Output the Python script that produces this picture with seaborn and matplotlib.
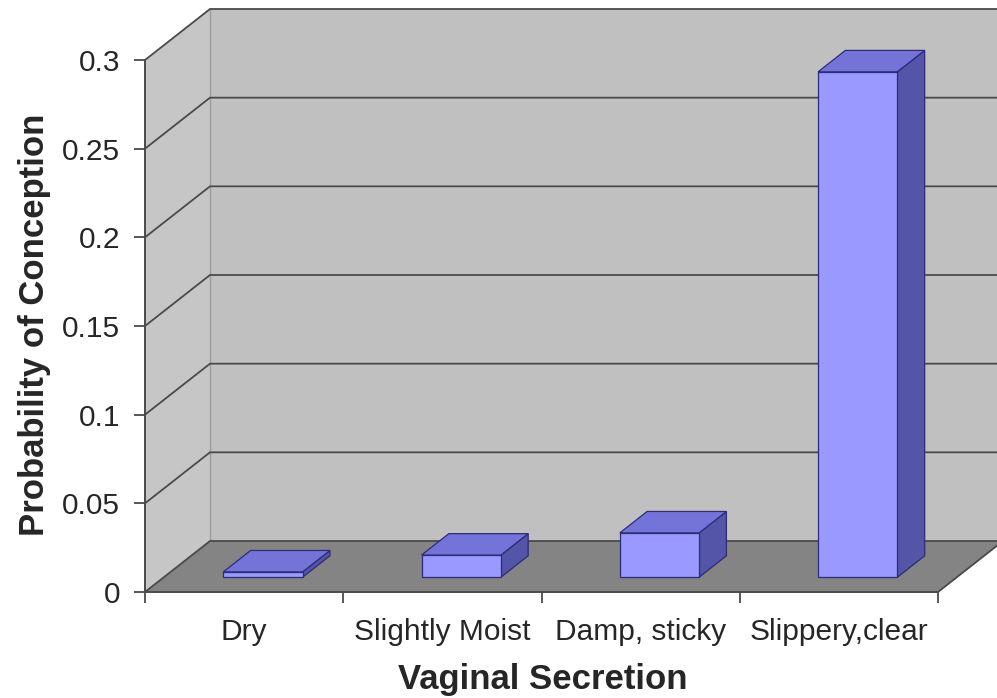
import matplotlib
matplotlib.use("Agg")
import matplotlib.pyplot as plt
from matplotlib.patches import Polygon
import seaborn as sns

# ---- data -------------------------------------------------------------
categories = ["Dry", "Slightly Moist", "Damp, sticky", "Slippery,clear"]
probabilities = [0.003, 0.0125, 0.025, 0.285]
y_ticks = [0, 0.05, 0.1, 0.15, 0.2, 0.25, 0.3]
y_tick_labels = ["0", "0.05", "0.1", "0.15", "0.2", "0.25", "0.3"]
x_label = "Vaginal Secretion"
y_label = "Probability of Conception"

# ---- style ------------------------------------------------------------
sns.set_theme(style="ticks")
plt.rcParams["font.family"] = ["Liberation Sans", "DejaVu Sans"]

FRONT = "#9999ff"
TOP = "#7474d8"
SIDE = "#5454a8"
BAR_EDGE = "#2c2c78"
WALL_LEFT = "#c6c6c6"
WALL_BACK = "#c0c0c0"
FLOOR = "#848484"
LINE = "#4a4a4a"
TEXT = "#262626"

W, H, DPI = 997, 698, 100
fig = plt.figure(figsize=(W / DPI, H / DPI), dpi=DPI)
fig.patch.set_facecolor("white")

# front plane of the plot box (pixels)
left_px, right_px, top_px, base_px = 145, 938, 60, 592
ax = fig.add_axes([left_px / W, (H - base_px) / H,
                   (right_px - left_px) / W, (base_px - top_px) / H])

sns.barplot(x=categories, y=probabilities, ax=ax, width=0.4, color=FRONT,
            saturation=1, edgecolor=BAR_EDGE, linewidth=0.9, zorder=6)
bars = list(ax.patches)

x0, x1 = -0.5, len(categories) - 0.5
ymax = y_ticks[-1]
ax.set_xlim(x0, x1)
ax.set_ylim(0, ymax)

# oblique depth vector in data units (65 px right, 51 px up)
px_per_cat = (right_px - left_px) / len(categories)
px_per_unit = (base_px - top_px) / ymax
DX = 65 / px_per_cat
DY = 51 / px_per_unit

# ---- box: walls and floor --------------------------------------------
walls = [
    ([(x0, 0), (x0, ymax), (x0 + DX, ymax + DY), (x0 + DX, DY)], WALL_LEFT),
    ([(x0 + DX, DY), (x0 + DX, ymax + DY), (x1 + DX, ymax + DY), (x1 + DX, DY)], WALL_BACK),
    ([(x0, 0), (x1, 0), (x1 + DX, DY), (x0 + DX, DY)], FLOOR),
]
for pts, col in walls:
    ax.add_patch(Polygon(pts, closed=True, facecolor=col, edgecolor="none",
                         zorder=1, clip_on=False))

# corner between side wall and back wall
ax.plot([x0 + DX, x0 + DX], [DY, ymax + DY], color="#9c9c9c", lw=1.0,
        zorder=2, clip_on=False)
# gridlines running along the side wall and the back wall
for v in y_ticks:
    ax.plot([x0, x0 + DX, x1 + DX], [v, v + DY, v + DY], color=LINE, lw=1.3,
            zorder=3, clip_on=False, solid_joinstyle="miter")
# right edge of the floor
ax.plot([x1, x1 + DX], [0, DY], color=LINE, lw=1.3, zorder=3, clip_on=False)

# ---- 3-D bars ---------------------------------------------------------
f0, depth = 0.29, 0.42
ox, oy = f0 * DX, f0 * DY
ddx, ddy = depth * DX, depth * DY
for p in bars:
    x, w, h = p.get_x(), p.get_width(), p.get_height()
    p.set_x(x + ox)
    p.set_y(oy)
    p.set_clip_on(False)
    xl, xr, yb, yt = x + ox, x + w + ox, oy, h + oy
    side = [(xr, yb), (xr, yt), (xr + ddx, yt + ddy), (xr + ddx, yb + ddy)]
    top = [(xl, yt), (xr, yt), (xr + ddx, yt + ddy), (xl + ddx, yt + ddy)]
    ax.add_patch(Polygon(side, closed=True, facecolor=SIDE, edgecolor=BAR_EDGE,
                         lw=0.9, zorder=5, clip_on=False))
    ax.add_patch(Polygon(top, closed=True, facecolor=TOP, edgecolor=BAR_EDGE,
                         lw=0.9, zorder=7, clip_on=False))

# ---- axes, ticks, labels ----------------------------------------------
for s in ("top", "right"):
    ax.spines[s].set_visible(False)
for s in ("left", "bottom"):
    ax.spines[s].set_color(LINE)
    ax.spines[s].set_linewidth(1.4)
    ax.spines[s].set_zorder(8)

ax.set_yticks(y_ticks)
ax.set_yticklabels(y_tick_labels)
ax.tick_params(axis="y", direction="out", length=8, width=1.3, color=LINE,
               pad=10, labelsize=21.5, labelcolor=TEXT)

ax.set_xticks(range(len(categories)))
ax.set_xticklabels(categories)
ax.set_xticks([i - 0.5 for i in range(len(categories) + 1)], minor=True)
ax.tick_params(axis="x", which="major", length=0, pad=19, labelsize=21.5,
               labelcolor=TEXT)
ax.tick_params(axis="x", which="minor", direction="out", length=8, width=1.3,
               color=LINE)

ax.set_xlabel(x_label, fontsize=25, fontweight="bold", color=TEXT)
ax.xaxis.set_label_coords(0.502, -0.165)
ax.xaxis.label.set_va("center")
ax.set_ylabel(y_label, fontsize=25, fontweight="bold", color=TEXT)
ax.yaxis.set_label_coords(-0.139, 0.502)
ax.yaxis.label.set_va("center")

fig.savefig("out.png", dpi=DPI)
